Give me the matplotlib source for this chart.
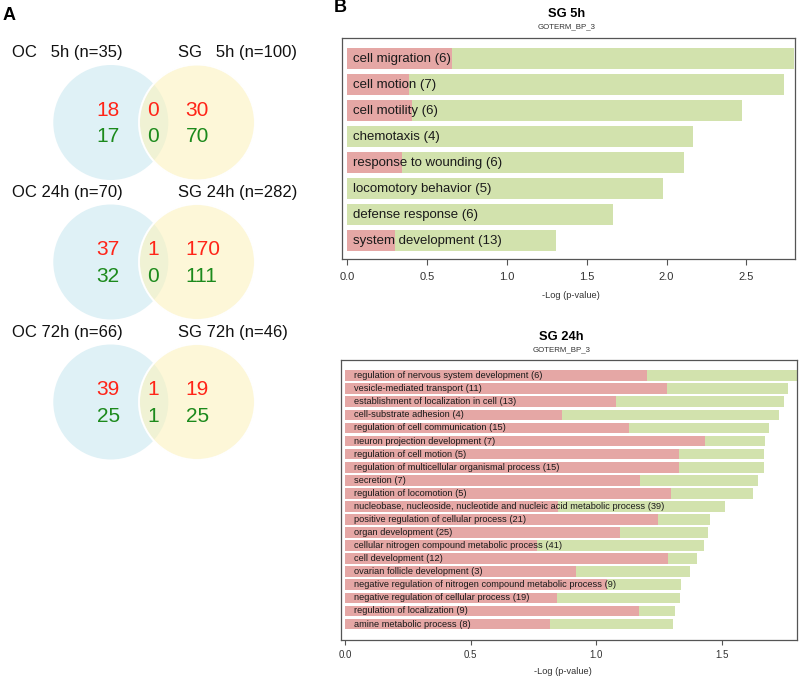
import matplotlib
matplotlib.use("Agg")
import matplotlib.pyplot as plt
from matplotlib.patches import Circle

plt.rcParams['font.family'] = ['Liberation Sans', 'DejaVu Sans']

# ---------------- data ----------------
venn_left_labels = ["OC   5h (n=35)", "OC 24h (n=70)", "OC 72h (n=66)"]
venn_right_labels = ["SG   5h (n=100)", "SG 24h (n=282)", "SG 72h (n=46)"]
venn_up_left = [18, 37, 39]
venn_up_mid = [0, 1, 1]
venn_up_right = [30, 170, 19]
venn_down_left = [17, 32, 25]
venn_down_mid = [0, 0, 1]
venn_down_right = [70, 111, 25]

sg5_terms = ["cell migration (6)", "cell motion (7)", "cell motility (6)",
             "chemotaxis (4)", "response to wounding (6)",
             "locomotory behavior (5)", "defense response (6)",
             "system development (13)"]
sg5_total = [2.80, 2.736, 2.473, 2.164, 2.11, 1.976, 1.667, 1.306]
sg5_red = [0.656, 0.387, 0.405, 0.0, 0.345, 0.0, 0.0, 0.301]

sg24_terms = [
    "regulation of nervous system development (6)",
    "vesicle-mediated transport (11)",
    "establishment of localization in cell (13)",
    "cell-substrate adhesion (4)",
    "regulation of cell communication (15)",
    "neuron projection development (7)",
    "regulation of cell motion (5)",
    "regulation of multicellular organismal process (15)",
    "secretion (7)",
    "regulation of locomotion (5)",
    "nucleobase, nucleoside, nucleotide and nucleic acid metabolic process (39)",
    "positive regulation of cellular process (21)",
    "organ development (25)",
    "cellular nitrogen compound metabolic process (41)",
    "cell development (12)",
    "ovarian follicle development (3)",
    "negative regulation of nitrogen compound metabolic process (9)",
    "negative regulation of cellular process (19)",
    "regulation of localization (9)",
    "amine metabolic process (8)",
]
sg24_total = [1.80, 1.763, 1.749, 1.728, 1.691, 1.674, 1.668, 1.669, 1.646, 1.627,
              1.513, 1.453, 1.446, 1.429, 1.401, 1.373, 1.340, 1.335, 1.313, 1.306]
sg24_red = [1.202, 1.283, 1.079, 0.864, 1.131, 1.434, 1.331, 1.332, 1.175, 1.299,
            0.849, 1.247, 1.097, 0.764, 1.285, 0.919, 1.042, 0.844, 1.170, 0.817]

# ---------------- styles ----------------
W, H = 800, 678
GREEN = "#d2e2ad"
RED = "#e5a7a5"
BLUE_C = "#dff1f6"
YEL_C = "#fcf3be"
TXT_RED = "#ff2418"
TXT_GREEN = "#1c8a1c"
SPINE = "#555555"

fig = plt.figure(figsize=(W / 100, H / 100), dpi=100)


def fx(px):
    return px / W


def fy(py):
    return 1 - py / H


# ---------------- panel A: Venn ----------------
axv = fig.add_axes([0, 0, 1, 1])
axv.set_xlim(0, W)
axv.set_ylim(H, 0)
axv.axis("off")

row_cy = [122.5, 262.0, 402.0]
for i, cy in enumerate(row_cy):
    axv.add_patch(Circle((110.8, cy), 57.5, facecolor=BLUE_C, edgecolor="none"))
    axv.add_patch(Circle((197.0, cy), 58.0, facecolor=YEL_C, edgecolor="white",
                         alpha=0.6, linewidth=1.5))
    axv.add_patch(Circle((197.0, cy), 58.0, facecolor="none", edgecolor="white",
                         linewidth=1.2))
    ly = cy - 69.5
    axv.text(12, ly, venn_left_labels[i], fontsize=12, ha="left", va="center", color="#111111")
    axv.text(178.3, ly, venn_right_labels[i], fontsize=12, ha="left", va="center", color="#111111")
    yu, yd = cy - 12.5, cy + 14.0
    axv.text(119.7, yu, str(venn_up_left[i]), fontsize=15, ha="right", va="center", color=TXT_RED)
    axv.text(153.5, yu, str(venn_up_mid[i]), fontsize=15, ha="center", va="center", color=TXT_RED)
    axv.text(185.6, yu, str(venn_up_right[i]), fontsize=15, ha="left", va="center", color=TXT_RED)
    axv.text(119.7, yd, str(venn_down_left[i]), fontsize=15, ha="right", va="center", color=TXT_GREEN)
    axv.text(153.5, yd, str(venn_down_mid[i]), fontsize=15, ha="center", va="center", color=TXT_GREEN)
    axv.text(185.6, yd, str(venn_down_right[i]), fontsize=15, ha="left", va="center", color=TXT_GREEN)

fig.text(fx(3), fy(16), "A", fontsize=13, fontweight="bold", ha="left", va="center")
fig.text(fx(334), fy(8), "B", fontsize=13, fontweight="bold", ha="left", va="center")


# ---------------- panel B: bar charts ----------------
def bar_panel(box, terms, total, red, xlim, ylim, xticks, bar_h, lab_fs, tick_fs, lab_off,
              tick_len, tick_pad):
    l, r, t, b = box
    ax = fig.add_axes([fx(l), fy(b), (r - l) / W, (b - t) / H])
    ys = list(range(len(terms)))
    ax.barh(ys, total, height=bar_h, color=GREEN, edgecolor="none")
    ax.barh(ys, red, height=bar_h, color=RED, edgecolor="none")
    for y, term in zip(ys, terms):
        ax.text(lab_off, y, term, fontsize=lab_fs, ha="left", va="center", color="#1a1a1a")
    ax.set_xlim(*xlim)
    ax.set_ylim(*ylim)
    ax.set_yticks([])
    ax.set_xticks(xticks)
    ax.set_xticklabels([f"{v:.1f}" for v in xticks])
    ax.tick_params(axis="x", length=tick_len, width=0.8, color=SPINE, labelsize=tick_fs,
                   labelcolor="#333333", pad=tick_pad)
    for s in ax.spines.values():
        s.set_color(SPINE)
        s.set_linewidth(0.9)
    return ax


bar_panel((342.3, 795.0, 38.3, 259.3), sg5_terms, sg5_total, sg5_red,
          (-0.031, 2.805), (7.715, -0.785), [0.0, 0.5, 1.0, 1.5, 2.0, 2.5],
          0.81, 9.5, 8, 0.035, 4.5, 4.5)
fig.text(fx(566.7), fy(14), "SG 5h", fontsize=9.3, fontweight="bold", ha="center", va="center")
fig.text(fx(566.7), fy(26.5), "GOTERM_BP_3", fontsize=5.7, ha="center", va="center", color="#333333")
fig.text(fx(571), fy(295), "-Log (p-value)", fontsize=6.7, ha="center", va="center", color="#333333")

bar_panel((340.7, 797.3, 360.0, 640.0), sg24_terms, sg24_total, sg24_red,
          (-0.018, 1.802), (20.22, -1.2), [0.0, 0.5, 1.0, 1.5],
          0.82, 6.7, 7, 0.036, 3.6, 3.5)
fig.text(fx(561.7), fy(337.3), "SG 24h", fontsize=9.3, fontweight="bold", ha="center", va="center")
fig.text(fx(561.7), fy(350), "GOTERM_BP_3", fontsize=5.7, ha="center", va="center", color="#333333")
fig.text(fx(563), fy(671.7), "-Log (p-value)", fontsize=6.7, ha="center", va="center", color="#333333")

fig.savefig("out.png", dpi=100)
